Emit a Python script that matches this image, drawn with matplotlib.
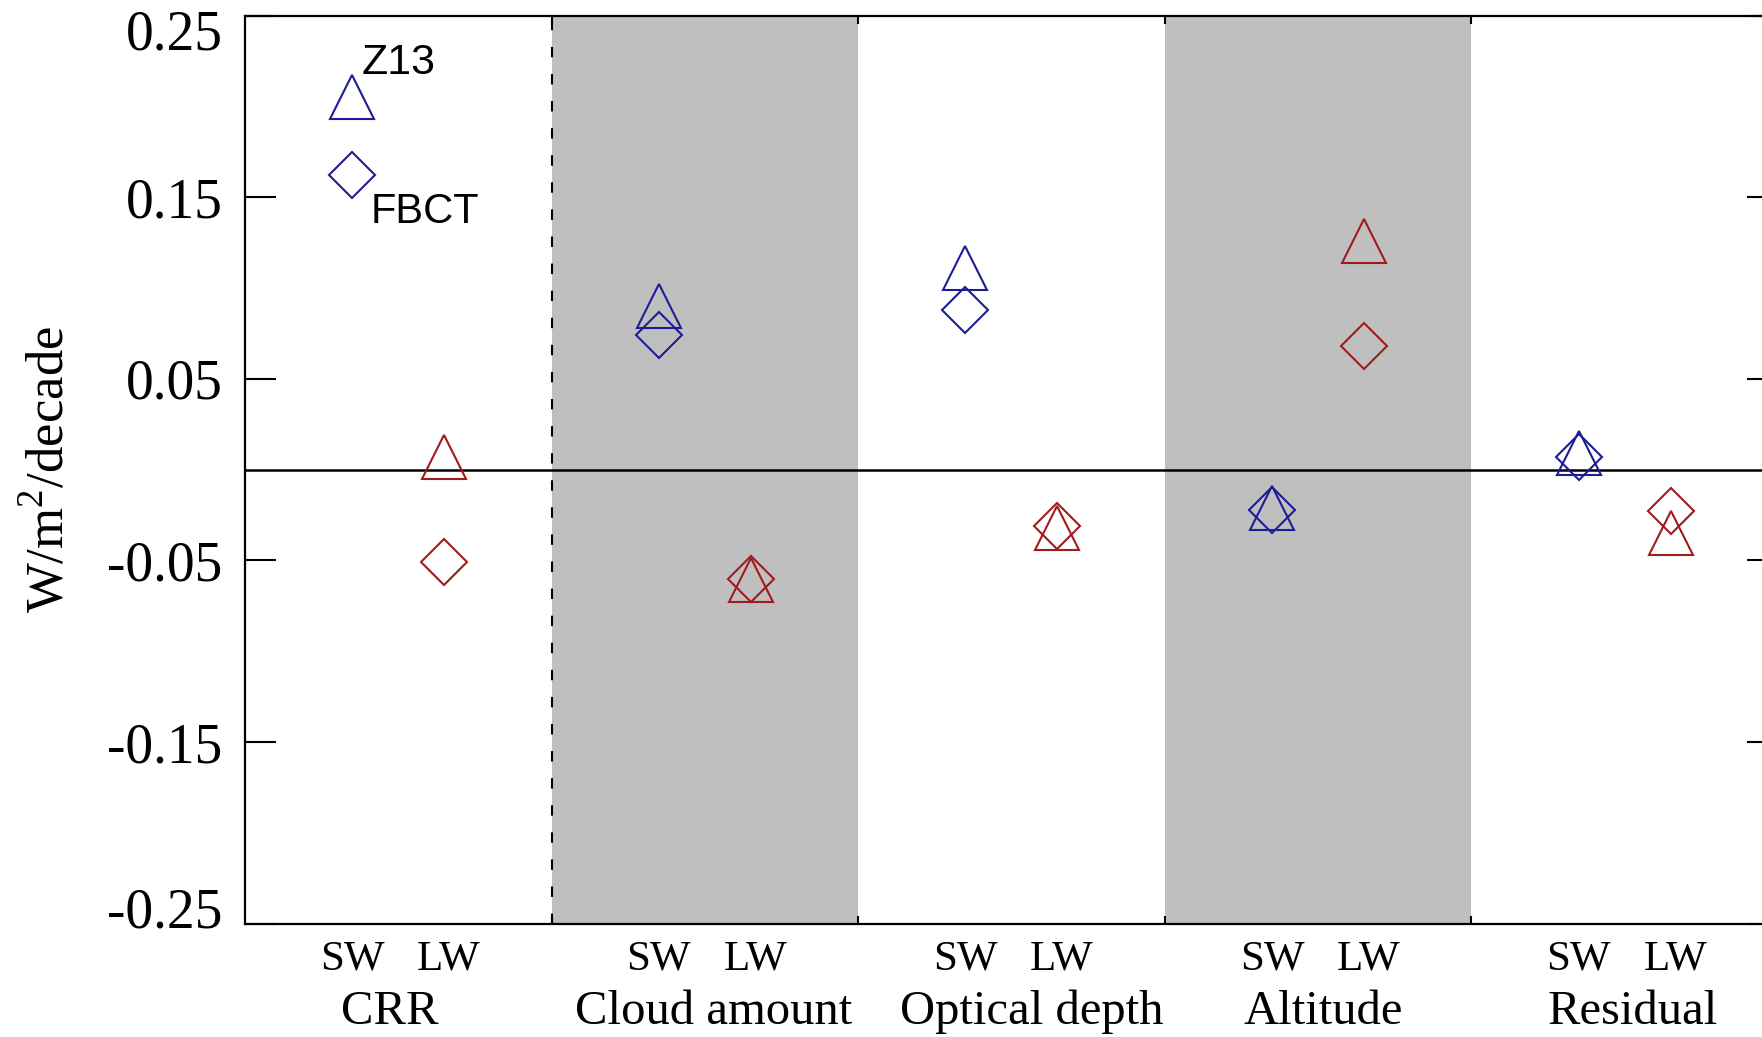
import matplotlib
matplotlib.use("Agg")
import matplotlib.pyplot as plt
import matplotlib.transforms as mtransforms
import numpy as np

plt.rcParams["mathtext.fontset"] = "custom"
plt.rcParams["mathtext.rm"] = "Liberation Serif"

# ------------------------------------------------------------------
# data
# ------------------------------------------------------------------
categories = ["CRR", "Cloud amount", "Optical depth", "Altitude", "Residual"]
bands = ["SW", "LW"]
shaded = [1, 3]          # index of categories with grey background

# Z13 (triangles), FBCT (diamonds); one value per category
z13_sw = [0.205, 0.090, 0.111, -0.021, 0.009]
z13_lw = [0.007, -0.061, -0.032, 0.126, -0.035]
fbct_sw = [0.162, 0.074, 0.088, -0.022, 0.007]
fbct_lw = [-0.051, -0.060, -0.031, 0.068, -0.023]

yticks = [0.25, 0.15, 0.05, -0.05, -0.15, -0.25]

BLUE = "#1c1c96"
RED = "#a01c1c"
GREY = "#bfbfbf"
SERIF = "Liberation Serif"

SW_OFF, LW_OFF = 0.35, 0.65
LW_LABEL_OFF = 0.665
# where each category name sits inside its section (as drawn in the original)
label_off = [0.473, 0.53, 0.568, 0.517, 0.528]

# ------------------------------------------------------------------
# plot
# ------------------------------------------------------------------
fig = plt.figure(figsize=(17.62, 10.37), dpi=100)
ax = fig.add_axes([0.139, 0.1093, 0.870, 0.8757])

for i in shaded:
    ax.axvspan(i, i + 1, color=GREY, lw=0, zorder=0)
ax.axvline(1, color="black", lw=1.5, dashes=(5, 8), zorder=1)
ax.axhline(0, color="black", lw=1.8, zorder=1)

x = np.arange(len(categories))
mk = dict(linestyle="none", markerfacecolor="none", markeredgewidth=1.5, zorder=3)
ax.plot(x + SW_OFF, z13_sw, marker="^", ms=32, markeredgecolor=BLUE, **mk)
ax.plot(x + SW_OFF, fbct_sw, marker="D", ms=23, markeredgecolor=BLUE, **mk)
ax.plot(x + LW_OFF, z13_lw, marker="^", ms=32, markeredgecolor=RED, **mk)
ax.plot(x + LW_OFF, fbct_lw, marker="D", ms=23, markeredgecolor=RED, **mk)

ax.text(0.38, 0.224, "Z13", fontsize=31, family="Liberation Sans",
        ha="left", va="center")
ax.text(0.41, 0.142, "FBCT", fontsize=30, family="Liberation Sans",
        ha="left", va="center")

ax.set_xlim(0, len(categories))
ax.set_ylim(-0.25, 0.25)

ax.set_yticks(yticks)
ax.set_yticklabels([f"{v:.2f}" for v in yticks], family=SERIF, fontsize=40)
ax.tick_params(axis="y", direction="in", length=22, width=1.5,
               left=True, right=True, pad=16)
ax.set_xticks(range(1, len(categories)))
ax.set_xticklabels([])
ax.tick_params(axis="x", direction="in", length=6, width=1.5,
               top=True, bottom=True)

# end labels are pulled inside the axis range, like the original
labels = ax.get_yticklabels()
labels[0].set_transform(labels[0].get_transform() +
                        mtransforms.ScaledTranslation(0, -10 / 72, fig.dpi_scale_trans))
labels[-1].set_transform(labels[-1].get_transform() +
                         mtransforms.ScaledTranslation(0, 11.5 / 72, fig.dpi_scale_trans))

for s in ax.spines.values():
    s.set_linewidth(1.6)

for i, cat in enumerate(categories):
    for b, off in zip(bands, (SW_OFF, LW_LABEL_OFF)):
        ax.text(i + off, -0.259, b, family=SERIF, fontsize=31,
                ha="center", va="top")
    ax.text(i + label_off[i], -0.2865, cat, family=SERIF, fontsize=35,
            ha="center", va="top")

ax.set_ylabel(r"W/m$^{\mathrm{2}}$/decade", family=SERIF, fontsize=38,
              labelpad=24)

fig.savefig("out.png", dpi=100)
